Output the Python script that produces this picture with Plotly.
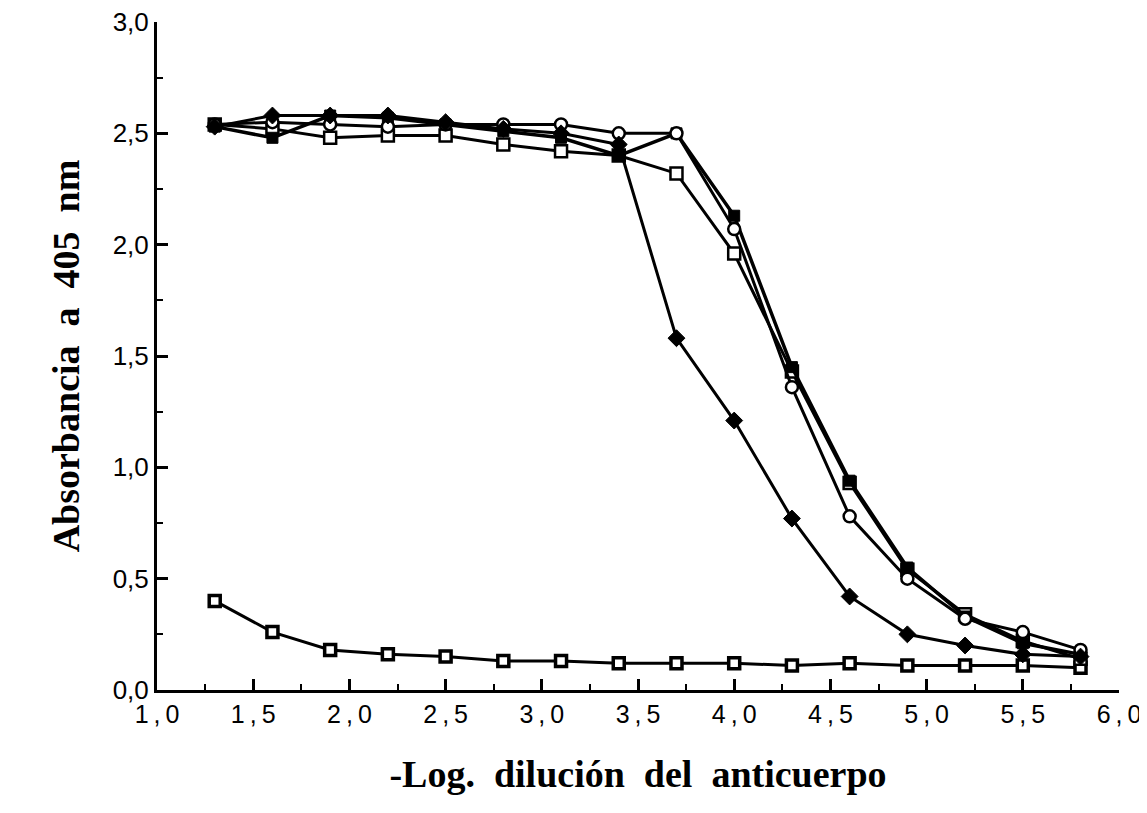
import plotly.graph_objects as go

x_vals = [1.3, 1.6, 1.9, 2.2, 2.5, 2.8, 3.1, 3.4, 3.7, 4.0, 4.3, 4.6, 4.9, 5.2, 5.5, 5.8]

serie_diamante = [2.53, 2.58, 2.58, 2.58, 2.55, 2.52, 2.50, 2.45, 1.58, 1.21, 0.77, 0.42, 0.25, 0.20, 0.16, 0.15]
serie_cuadrado_lleno = [2.53, 2.48, 2.58, 2.57, 2.54, 2.51, 2.48, 2.40, 2.50, 2.13, 1.45, 0.94, 0.55, 0.33, 0.21, 0.16]
serie_circulo = [2.54, 2.55, 2.54, 2.53, 2.54, 2.54, 2.54, 2.50, 2.50, 2.07, 1.36, 0.78, 0.50, 0.32, 0.26, 0.18]
serie_cuadrado = [2.54, 2.52, 2.48, 2.49, 2.49, 2.45, 2.42, 2.40, 2.32, 1.96, 1.43, 0.93, 0.54, 0.34, 0.22, 0.14]
serie_control = [0.40, 0.26, 0.18, 0.16, 0.15, 0.13, 0.13, 0.12, 0.12, 0.12, 0.11, 0.12, 0.11, 0.11, 0.11, 0.10]

x_ticks = [1.0, 1.5, 2.0, 2.5, 3.0, 3.5, 4.0, 4.5, 5.0, 5.5, 6.0]
x_ticktext = ["1\u2009,\u20090", "1\u2009,\u20095", "2\u2009,\u20090", "2\u2009,\u20095", "3\u2009,\u20090", "3\u2009,\u20095",
              "4\u2009,\u20090", "4\u2009,\u20095", "5\u2009,\u20090", "5\u2009,\u20095", "6\u2009,\u20090"]
y_ticks = [0.0, 0.5, 1.0, 1.5, 2.0, 2.5, 3.0]
y_ticktext = ["0,0", "0,5", "1,0", "1,5", "2,0", "2,5", "3,0"]

fig = go.Figure()

fig.add_trace(go.Scatter(x=x_vals, y=serie_control, mode="lines+markers",
                         line=dict(color="black", width=3),
                         marker=dict(symbol="square", size=11, color="white",
                                     line=dict(color="black", width=3.5))))
fig.add_trace(go.Scatter(x=x_vals, y=serie_cuadrado, mode="lines+markers",
                         line=dict(color="black", width=3),
                         marker=dict(symbol="square", size=12, color="white",
                                     line=dict(color="black", width=2.5))))
fig.add_trace(go.Scatter(x=x_vals, y=serie_cuadrado_lleno, mode="lines+markers",
                         line=dict(color="black", width=3.5),
                         marker=dict(symbol="square", size=11, color="black",
                                     line=dict(color="black", width=1))))
fig.add_trace(go.Scatter(x=x_vals, y=serie_circulo, mode="lines+markers",
                         line=dict(color="black", width=3),
                         marker=dict(symbol="circle", size=12, color="white",
                                     line=dict(color="black", width=2.5))))
fig.add_trace(go.Scatter(x=x_vals, y=serie_diamante, mode="lines+markers",
                         line=dict(color="black", width=3),
                         marker=dict(symbol="diamond", size=13, color="black",
                                     line=dict(color="black", width=1))))

fig.update_layout(
    width=1147, height=813,
    margin=dict(l=149, r=36, t=14, b=131),
    paper_bgcolor="white", plot_bgcolor="white",
    showlegend=False,
    font=dict(family="Liberation Sans, Arial, sans-serif", color="black"),
)

fig.update_xaxes(
    range=[1.0, 6.0], tickvals=x_ticks, ticktext=x_ticktext,
    showgrid=False, zeroline=False, automargin=False,
    showline=True, linecolor="black", linewidth=3,
    ticks="inside", ticklen=11, tickwidth=2.5, tickcolor="black",
    minor=dict(ticks="inside", ticklen=6, tickwidth=2, tickcolor="black", dtick=0.25, showgrid=False),
    tickfont=dict(size=25, family="Liberation Sans, Arial, sans-serif"),
    ticklabeloverflow="allow",
    title=dict(text="-Log.\u00a0 dilución\u00a0 del\u00a0 anticuerpo",
               font=dict(size=38, family="Liberation Serif, Times New Roman, serif", weight="bold"),
               standoff=34),
)
fig.update_yaxes(
    range=[0.0, 3.0], tickvals=y_ticks, ticktext=y_ticktext,
    showgrid=False, zeroline=False, automargin=False,
    showline=True, linecolor="black", linewidth=3,
    ticks="inside", ticklen=11, tickwidth=2.5, tickcolor="black",
    minor=dict(ticks="inside", ticklen=6, tickwidth=2, tickcolor="black", dtick=0.25, showgrid=False),
    tickfont=dict(size=26, family="Liberation Sans, Arial, sans-serif"),
    ticklabeloverflow="allow",
    title=dict(text="Absorbancia\u00a0 a\u00a0 405\u00a0 nm",
               font=dict(size=38, family="Liberation Serif, Times New Roman, serif", weight="bold"),
               standoff=22),
)

fig.write_html("out.html")
